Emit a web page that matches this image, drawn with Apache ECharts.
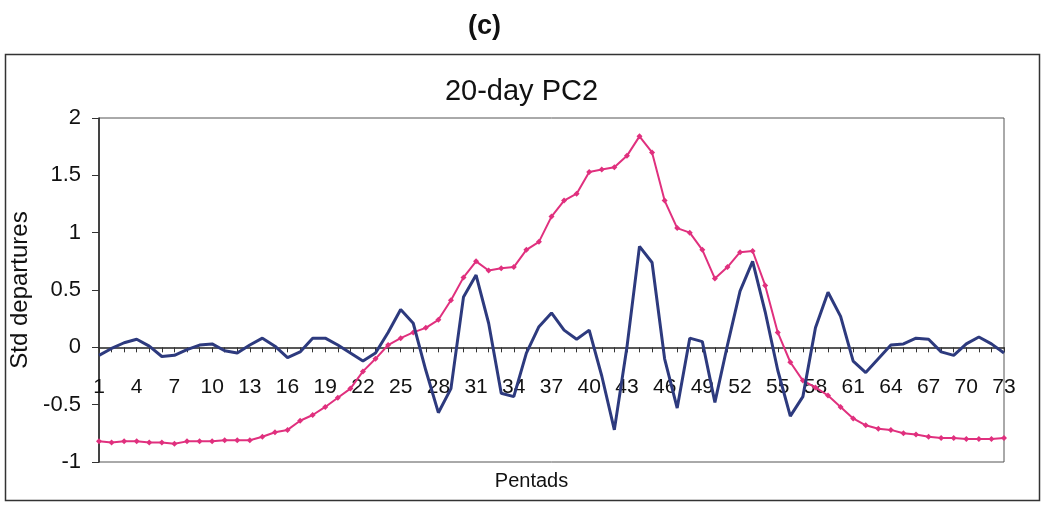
<!DOCTYPE html>
<html>
<head>
<meta charset="utf-8">
<script src="https://cdn.jsdelivr.net/npm/echarts@6/dist/echarts.min.js"></script>
<style>
html,body{margin:0;padding:0;background:#fff;}
#chart{width:1043px;height:506px;}
</style>
</head>
<body>
<div id="chart"></div>
<script>
// Pentads 1..73
var pentads = [];
for (var i = 1; i <= 73; i++) pentads.push(String(i));

// Blue series (20-day PC2 time coefficient, std departures)
var pc2Values = [
  -0.07, -0.01, 0.04, 0.07, 0.01, -0.08, -0.07, -0.02, 0.02, 0.03,
  -0.03, -0.05, 0.02, 0.08, 0.01, -0.09, -0.04, 0.08, 0.08, 0.02,
  -0.05, -0.12, -0.05, 0.13, 0.33, 0.21, -0.20, -0.57, -0.36, 0.44,
  0.63, 0.21, -0.40, -0.43, -0.05, 0.18, 0.30, 0.15, 0.07, 0.15,
  -0.25, -0.72, 0.00, 0.88, 0.74, -0.10, -0.53, 0.08, 0.05, -0.48,
  0.02, 0.49, 0.75, 0.31, -0.20, -0.60, -0.43, 0.17, 0.48, 0.27,
  -0.12, -0.22, -0.10, 0.02, 0.03, 0.08, 0.07, -0.04, -0.07, 0.03,
  0.09, 0.03, -0.05
];

// Pink series (seasonal curve)
var seasonValues = [
  -0.82, -0.83, -0.82, -0.82, -0.83, -0.83, -0.84, -0.82, -0.82, -0.82,
  -0.81, -0.81, -0.81, -0.78, -0.74, -0.72, -0.64, -0.59, -0.52, -0.44,
  -0.36, -0.21, -0.10, 0.02, 0.08, 0.13, 0.17, 0.24, 0.41, 0.61,
  0.75, 0.67, 0.69, 0.70, 0.85, 0.92, 1.14, 1.28, 1.34, 1.53,
  1.55, 1.57, 1.67, 1.84, 1.70, 1.28, 1.04, 1.00, 0.85, 0.60,
  0.70, 0.83, 0.84, 0.54, 0.13, -0.13, -0.29, -0.35, -0.42, -0.52,
  -0.62, -0.68, -0.71, -0.72, -0.75, -0.76, -0.78, -0.79, -0.79, -0.80,
  -0.80, -0.80, -0.79
];

var chart = echarts.init(document.getElementById('chart'), null, {renderer: 'canvas'});
var FONT = 'Liberation Sans, Arial, sans-serif';

chart.setOption({
  backgroundColor: '#ffffff',
  animation: false,
  title: [
    {
      text: '(c)', left: 463, top: 8,
      textStyle: {fontFamily: FONT, fontSize: 27, fontWeight: 'bold', color: '#111'}
    },
    {
      text: '20-day PC2', left: 'center', top: 72,
      textStyle: {fontFamily: FONT, fontSize: 29, fontWeight: 'normal', color: '#111'}
    }
  ],
  graphic: [
    {
      type: 'rect', silent: true, z: -1,
      shape: {x: 5.5, y: 54.5, width: 1034, height: 446},
      style: {fill: 'none', stroke: '#333', lineWidth: 1.5}
    }
  ],
  grid: {
    left: 99, right: 39, top: 118, bottom: 44,
    outerBoundsMode: 'none',
    containLabel: false,
    show: true, borderColor: '#555', borderWidth: 1, backgroundColor: 'transparent'
  },
  xAxis: {
    type: 'category',
    data: pentads,
    boundaryGap: false,
    name: 'Pentads',
    nameLocation: 'middle',
    nameGap: 9,
    nameTextStyle: {fontFamily: FONT, fontSize: 20, color: '#111', padding: [0, 40, 0, 0]},
    axisLine: {onZero: true, lineStyle: {color: '#222', width: 1.5}},
    axisTick: {show: true, interval: 0, length: 5, inside: false, lineStyle: {color: '#333'}},
    axisLabel: {interval: 2, margin: -85, fontFamily: FONT, fontSize: 21, color: '#111'},
    splitLine: {show: false}
  },
  yAxis: {
    type: 'value',
    min: -1, max: 2, interval: 0.5,
    name: 'Std departures',
    nameLocation: 'middle',
    nameGap: 60,
    nameTextStyle: {fontFamily: FONT, fontSize: 24, color: '#111'},
    axisLine: {show: true, lineStyle: {color: '#222', width: 1.5}},
    axisTick: {show: true, length: 7, inside: false, lineStyle: {color: '#333'}},
    axisLabel: {margin: 18, fontFamily: FONT, fontSize: 22, color: '#111'},
    splitLine: {show: false}
  },
  series: [
    {
      name: 'Seasonal',
      type: 'line',
      data: seasonValues,
      symbol: 'diamond',
      symbolSize: 6,
      showSymbol: true,
      itemStyle: {color: '#E0307E'},
      lineStyle: {color: '#E0307E', width: 2},
      z: 2
    },
    {
      name: 'PC2',
      type: 'line',
      data: pc2Values,
      symbol: 'none',
      itemStyle: {color: '#2D3A7E'},
      lineStyle: {color: '#2D3A7E', width: 3},
      z: 3
    }
  ]
});
</script>
</body>
</html>
